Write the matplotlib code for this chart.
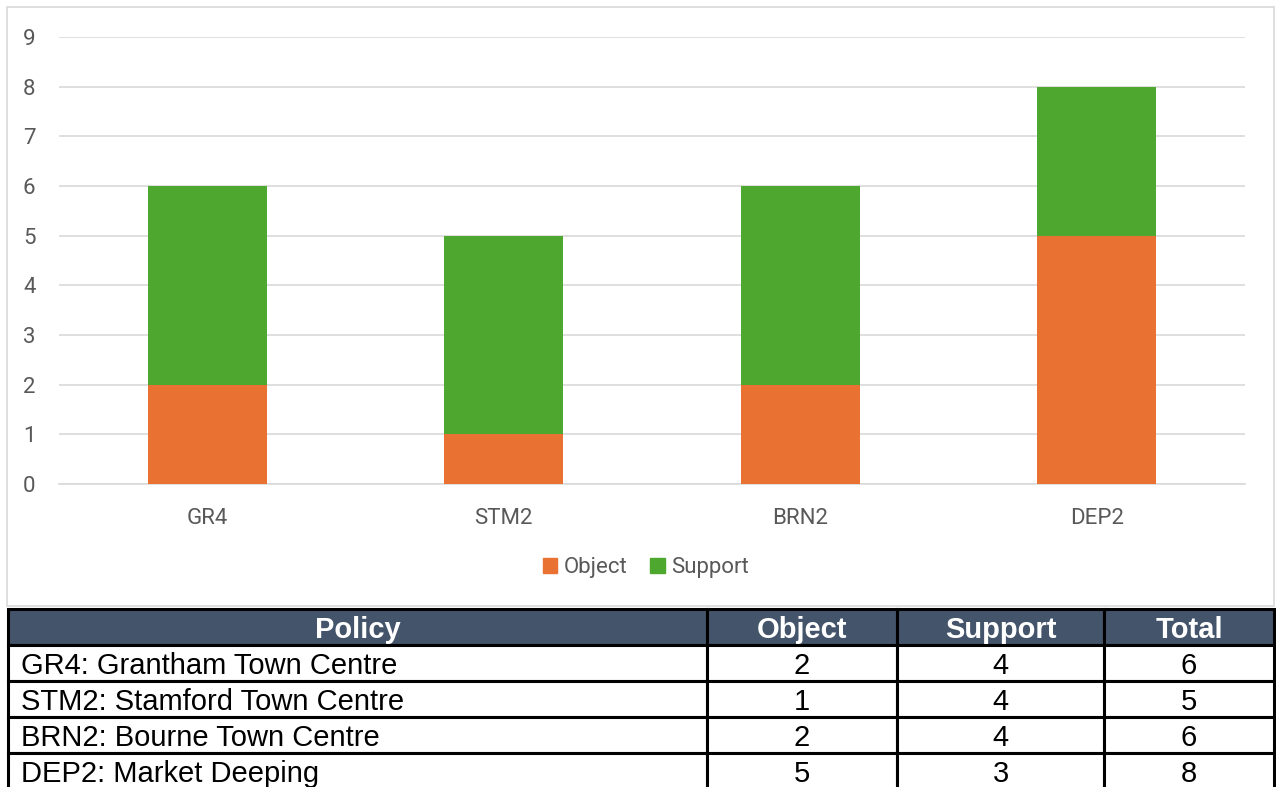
import matplotlib.pyplot as plt
from matplotlib.patches import Patch, Rectangle

# chart data
codes = ["GR4", "STM2", "BRN2", "DEP2"]
policies = ["GR4: Grantham Town Centre", "STM2: Stamford Town Centre",
            "BRN2: Bourne Town Centre", "DEP2: Market Deeping"]
objects = [2, 1, 2, 5]
supports = [4, 4, 4, 3]
totals = [o + s for o, s in zip(objects, supports)]
yticks = list(range(0, 10))

ORANGE = "#E97132"
GREEN = "#4EA72E"
GRID = "#D9D9D9"
TXT = "#595959"
HEAD = "#44546A"

W, H = 1276, 787


def px_axes(fig, x0, y0, x1, y1):
    # pixel box (top-left origin) -> figure axes
    return fig.add_axes([x0 / W, 1 - y1 / H, (x1 - x0) / W, (y1 - y0) / H])


fig = plt.figure(figsize=(W / 100, H / 100), dpi=100)

# light chart frame
fig.patches.append(Rectangle((7 / W, 1 - 606 / H), 1267 / W, 599 / H,
                             transform=fig.transFigure, fill=False,
                             edgecolor=GRID, linewidth=1.2))

ax = px_axes(fig, 59, 37, 1245, 484)
x = range(len(codes))
ax.bar(x, objects, width=0.4, color=ORANGE, zorder=3, label="Object")
ax.bar(x, supports, width=0.4, bottom=objects, color=GREEN, zorder=3, label="Support")
ax.set_xlim(-0.5, len(codes) - 0.5)
ax.set_ylim(0, 9)
ax.set_yticks(yticks)
ax.set_xticks(list(x))
ax.set_xticklabels(codes)
ax.grid(axis="y", color=GRID, linewidth=1.2, zorder=0)
for s in ["top", "right", "left"]:
    ax.spines[s].set_visible(False)
ax.spines["bottom"].set_color(GRID)
ax.spines["bottom"].set_linewidth(1.2)
ax.tick_params(length=0, colors=TXT, labelsize=16)
ax.tick_params(axis="y", pad=17)
ax.tick_params(axis="x", pad=17)
for lab in ax.get_xticklabels() + ax.get_yticklabels():
    lab.set_fontfamily("Roboto")

handles = [Patch(color=ORANGE), Patch(color=GREEN)]
fig.legend(handles, ["Object", "Support"], loc="center",
           bbox_to_anchor=(646 / W, 1 - 568 / H), ncol=2, frameon=False,
           prop={"family": "Roboto", "size": 16}, labelcolor=TXT,
           handlelength=0.65, handleheight=0.65, handletextpad=0.3,
           columnspacing=1.0)

# table below the chart
tax = px_axes(fig, 8, 609, 1274, 789)
tax.axis("off")
rows = [[p, str(o), str(s), str(t)] for p, o, s, t in zip(policies, objects, supports, totals)]
col_px = [699, 190, 207, 170]
tbl = tax.table(cellText=rows, colLabels=["Policy", "Object", "Support", "Total"],
                colWidths=[c / sum(col_px) for c in col_px],
                bbox=[0, 0, 1, 1], cellLoc="center")
tbl.auto_set_font_size(False)
for (r, c), cell in tbl.get_celld().items():
    cell.set_edgecolor("black")
    cell.set_linewidth(2.2)
    txt = cell.get_text()
    txt.set_fontfamily("Liberation Sans")
    txt.set_fontsize(21)
    txt.set_va("center_baseline")
    if r == 0:
        cell.set_facecolor(HEAD)
        txt.set_color("white")
        txt.set_fontweight("bold")
    elif c == 0:
        cell.PAD = 0.018
        txt.set_ha("left")
        cell._loc = "left"

fig.savefig("out.png", dpi=100)
